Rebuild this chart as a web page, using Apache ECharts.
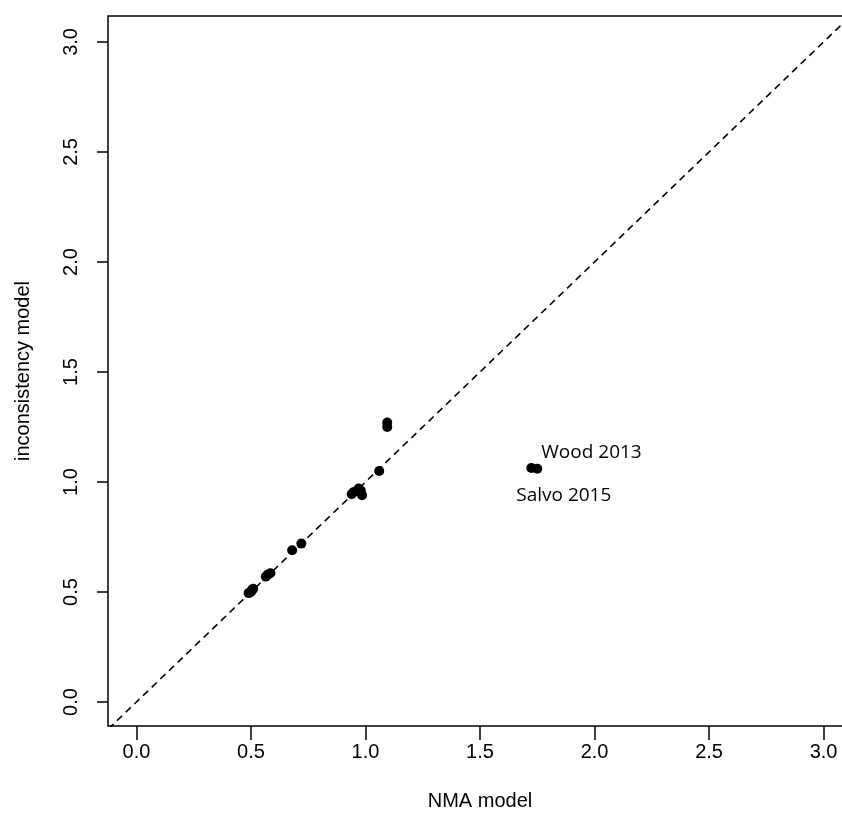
<!DOCTYPE html>
<html>
<head>
<meta charset="UTF-8">
<title>NMA vs inconsistency model</title>
<script src="https://cdn.jsdelivr.net/npm/echarts@6/dist/echarts.min.js"></script>
<style>
body { margin: 0; padding: 0; background: #fff; }
#main { width: 842px; height: 824px; }
</style>
</head>
<body>
<div id="main"></div>
<script>
// values
var nmaModel = [0.49, 0.50, 0.505, 0.51, 0.565, 0.575, 0.585, 0.68, 0.72, 0.94, 0.95, 0.97, 0.98, 0.985, 1.06, 1.095, 1.095, 1.724, 1.75];
var inconsistencyModel = [0.495, 0.50, 0.51, 0.515, 0.57, 0.58, 0.585, 0.69, 0.72, 0.945, 0.955, 0.97, 0.96, 0.94, 1.05, 1.27, 1.25, 1.064, 1.06];
var studyLabels = ['', '', '', '', '', '', '', '', '', '', '', '', '', '', '', '', '', 'Wood 2013', 'Salvo 2015'];
var tickValues = [0, 0.5, 1, 1.5, 2, 2.5, 3];
var identityLine = [[-0.5, -0.5], [3.5, 3.5]];

var chart = echarts.init(document.getElementById('main'));

var points = [];
for (var i = 0; i < nmaModel.length; i++) {
    var p = { value: [nmaModel[i], inconsistencyModel[i]] };
    if (studyLabels[i] == 'Wood 2013') {
        p.label = { show: true, formatter: studyLabels[i], position: [15, -10] };
    } else if (studyLabels[i] == 'Salvo 2015') {
        p.label = { show: true, formatter: studyLabels[i], position: [-16, 32] };
    }
    points.push(p);
}

var fmt = function (v) { return v.toFixed(1); };

option = {
    animation: false,
    backgroundColor: '#fff',
    grid: {
        left: 108,
        top: 16,
        width: 744,
        height: 710,
        outerBoundsMode: 'none',
        containLabel: false,
        show: true,
        borderColor: '#000',
        borderWidth: 1.5
    },
    xAxis: {
        type: 'value',
        min: -0.124,
        max: 3.124,
        name: 'NMA model',
        nameLocation: 'middle',
        nameGap: 65,
        nameTextStyle: { color: '#000', fontSize: 20, fontFamily: 'Liberation Sans' },
        axisLine: { show: false, onZero: false },
        splitLine: { show: false },
        axisTick: { show: true, length: 14, customValues: tickValues, lineStyle: { color: '#000', width: 1.5 } },
        axisLabel: { customValues: tickValues, formatter: fmt, color: '#000', fontSize: 20, fontFamily: 'Liberation Sans', margin: 16 }
    },
    yAxis: {
        type: 'value',
        min: -0.109,
        max: 3.118,
        name: 'inconsistency model',
        nameLocation: 'middle',
        nameGap: 75,
        nameTextStyle: { color: '#000', fontSize: 20, fontFamily: 'Liberation Sans' },
        axisLine: { show: false, onZero: false },
        splitLine: { show: false },
        axisTick: { show: true, length: 11, customValues: tickValues, lineStyle: { color: '#000', width: 1.5 } },
        axisLabel: { customValues: tickValues, formatter: fmt, rotate: 90, color: '#000', fontSize: 20, fontFamily: 'Liberation Sans', margin: 27 }
    },
    series: [
        {
            type: 'line',
            data: identityLine,
            clip: true,
            symbol: 'none',
            silent: true,
            lineStyle: { color: '#000', width: 1.6, type: [7, 5] }
        },
        {
            type: 'scatter',
            data: points,
            symbol: 'circle',
            symbolSize: 10,
            itemStyle: { color: '#000', opacity: 1 },
            label: {
                color: '#000',
                fontSize: 19,
                fontFamily: 'Open Sans',
                align: 'left',
                verticalAlign: 'middle'
            }
        }
    ]
};
chart.setOption(option);
</script>
</body>
</html>
